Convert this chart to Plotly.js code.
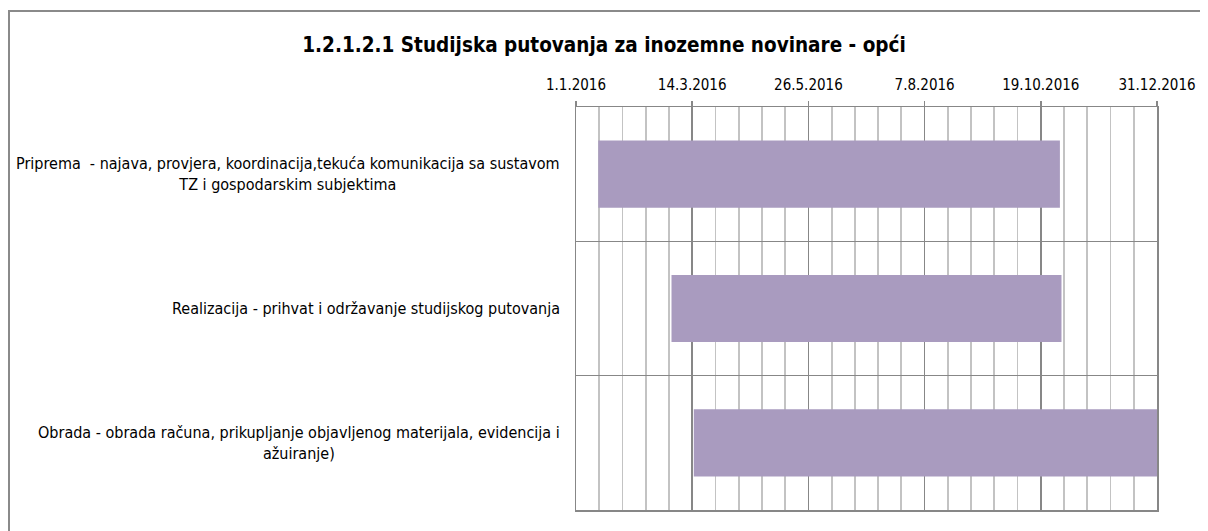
<!DOCTYPE html>
<html>
<head>
<meta charset="utf-8">
<script src="https://cdn.plot.ly/plotly-3.0.1.min.js"></script>
<style>
  html, body { margin: 0; background: #fff; overflow: hidden; }
  #plot { width: 1208px; height: 531px; }
</style>
</head>
<body>
<div id="plot"></div>
<script>
// tasks, top to bottom
var tasks = [
  'Priprema  - najava, provjera, koordinacija,tekuća komunikacija sa sustavom<br>TZ i gospodarskim subjektima',
  'Realizacija - prihvat i održavanje studijskog putovanja',
  'Obrada - obrada računa, prikupljanje objavljenog materijala, evidencija i<br>ažuiranje)'
];
var startDates = ['2016-01-15', '2016-03-01', '2016-03-15'];
var endDates = ['2016-10-31', '2016-11-01', '2016-12-31'];

var DAY = 86400000;
var durations = startDates.map(function (s, i) {
  return Date.parse(endDates[i]) - Date.parse(s);
});

var W = 1208, H = 531;
var M = { l: 576, r: 51, t: 107, b: 21 };
var font = '"DejaVu Sans Condensed", "DejaVu Sans", sans-serif';
var axisGrey = '#878787';

// pixel -> paper helpers for the chart frame
function px(x) { return (x - M.l) / (W - M.l - M.r); }
function py(y) { return (H - M.b - y) / (H - M.t - M.b); }

var trace = {
  type: 'bar',
  orientation: 'h',
  y: tasks,
  x: durations,
  base: startDates,
  width: 0.5,
  marker: { color: '#A99BBF', line: { width: 0 } },
  hoverinfo: 'skip'
};

// category labels as annotations so the wrapped lines are centred
var labels = tasks.map(function (t) {
  return {
    text: t, xref: 'paper', yref: 'y', x: -0.024, y: t,
    xanchor: 'right', yanchor: 'middle', align: 'center', showarrow: false,
    font: { family: font, size: 16, color: '#000' }
  };
});

// chart area frame (only top and left edges are inside the picture)
var frame = [
  { type: 'line', xref: 'paper', yref: 'paper', x0: px(8), x1: px(1200), y0: py(11), y1: py(11),
    line: { color: '#8a8a8a', width: 2 } },
  { type: 'line', xref: 'paper', yref: 'paper', x0: px(9), x1: px(9), y0: py(10), y1: py(H + 5),
    line: { color: '#8a8a8a', width: 2 } }
];

var layout = {
  width: W,
  height: H,
  margin: M,
  paper_bgcolor: '#fff',
  plot_bgcolor: '#fff',
  showlegend: false,
  title: {
    text: '<b>1.2.1.2.1 Studijska putovanja za inozemne novinare - opći</b>',
    font: { family: font, size: 20.5, color: '#000' },
    x: 604 / W, xref: 'container', xanchor: 'center',
    y: 1 - 45 / H, yref: 'container', yanchor: 'middle'
  },
  xaxis: {
    type: 'date',
    side: 'top',
    range: ['2016-01-01', '2016-12-31'],
    tick0: '2016-01-01',
    dtick: 73 * DAY,
    tickformat: '%-d.%-m.%Y',
    tickfont: { family: font, size: 15, color: '#000' },
    ticks: 'outside', ticklen: 5, tickcolor: axisGrey, tickwidth: 1.5,
    ticklabelstandoff: 5,
    showgrid: true, gridcolor: axisGrey, gridwidth: 1.5,
    minor: { tick0: '2016-01-01', dtick: 14.6 * DAY, showgrid: true, gridcolor: '#c3c3c3', gridwidth: 1.8, ticks: '' },
    showline: true, linecolor: axisGrey, linewidth: 1.5, mirror: true,
    zeroline: false, fixedrange: true
  },
  yaxis: {
    type: 'category',
    categoryorder: 'array',
    categoryarray: tasks,
    autorange: 'reversed',
    tickson: 'boundaries',
    showgrid: true, gridcolor: axisGrey, gridwidth: 1.5,
    showticklabels: false, ticks: '',
    showline: true, linecolor: axisGrey, linewidth: 1.5, mirror: true,
    zeroline: false, fixedrange: true
  },
  shapes: frame,
  annotations: labels
};

Plotly.newPlot('plot', [trace], layout, { displayModeBar: false, staticPlot: true });
</script>
</body>
</html>
